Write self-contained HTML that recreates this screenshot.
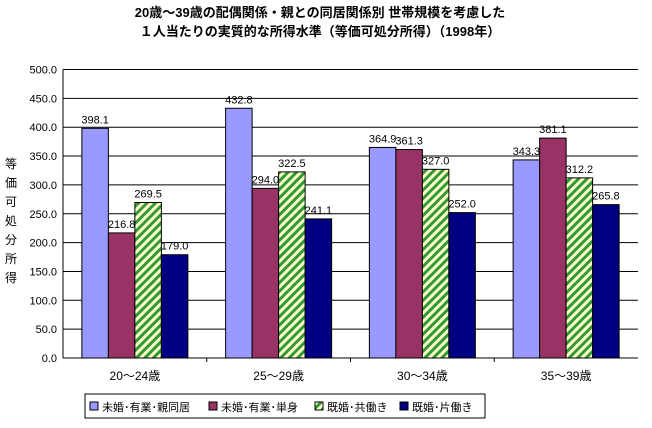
<!DOCTYPE html>
<html><head><meta charset="utf-8"><style>
body{margin:0;background:#fff;font-family:"Liberation Sans","Noto Sans CJK JP",sans-serif}
</style></head><body>
<svg width="652" height="423" xmlns="http://www.w3.org/2000/svg" font-family="Liberation Sans, Noto Sans CJK JP, sans-serif">
<defs><pattern id="hatch" width="6" height="6" patternUnits="userSpaceOnUse" patternTransform="rotate(45)"><rect width="6" height="6" fill="#ffffcc"/><rect width="3" height="6" fill="#339933"/></pattern></defs>
<text x="320" y="17" text-anchor="middle" font-size="13" font-weight="bold">20歳～39歳の配偶関係・親との同居関係別 世帯規模を考慮した</text>
<text x="320" y="36" text-anchor="middle" font-size="13" font-weight="bold">１人当たりの実質的な所得水準（等価可処分所得）（1998年）</text>
<g id="grid"></g><g id="bars"></g><g id="labels"></g>
<text x="10" y="168" font-size="12"><tspan x="5" dy="0">等</tspan><tspan x="5" dy="19">価</tspan><tspan x="5" dy="19">可</tspan><tspan x="5" dy="19">処</tspan><tspan x="5" dy="19">分</tspan><tspan x="5" dy="19">所</tspan><tspan x="5" dy="19">得</tspan></text>
<rect x="85" y="394" width="400" height="24" fill="#fff" stroke="#000"/>
<g font-size="11" id="legend"></g>
</svg>
<script>
const categories=["20～24歳","25～29歳","30～34歳","35～39歳"];
const seriesNames=["未婚･有業･親同居","未婚･有業･単身","既婚･共働き","既婚･片働き"];
const s1=[398.1,432.8,364.9,343.3];
const s2=[216.8,294.0,361.3,381.1];
const s3=[269.5,322.5,327.0,312.2];
const s4=[179.0,241.1,252.0,265.8];
const yTicks=[0,50,100,150,200,250,300,350,400,450,500];
const fills=["#9999ff","#993366","url(#hatch)","#000080"];
const X0=63,X1=638,Y0=358,Y1=69.5,NS="http://www.w3.org/2000/svg";
const y=v=>Y0-(v/500)*(Y0-Y1);
const cw=(X1-X0)/categories.length,bw=26.5;
function el(t,a,p){const e=document.createElementNS(NS,t);for(const k in a)e.setAttribute(k,a[k]);document.getElementById(p).appendChild(e);return e;}
yTicks.forEach(t=>{
 if(t>0){const l=el('line',{x1:X0,x2:X1,y1:y(t),y2:y(t),stroke:'#000','stroke-width':1},'grid');
 
 }
 const tx=el('text',{x:X0-6,y:y(t)+4,'text-anchor':'end','font-size':11},'grid');tx.textContent=t.toFixed(1);
 
 
});
el('line',{x1:X0,x2:X0,y1:Y1,y2:Y0,stroke:'#000'},'grid');
el('line',{x1:X0,x2:X1,y1:Y0,y2:Y0,stroke:'#000'},'grid');
const series=[s1,s2,s3,s4];
categories.forEach((c,i)=>{
 const cx=X0+cw*(i+0.5),start=cx-2*bw;
 series.forEach((s,j)=>{
  const r=el('rect',{x:start+j*bw,y:y(s[i]),width:bw,height:Y0-y(s[i]),fill:fills[j],stroke:'#000','stroke-width':1},'bars');
  
  
  const t=el('text',{x:start+j*bw+bw/2,y:y(s[i])-5,'text-anchor':'middle','font-size':11},'labels');t.textContent=s[i].toFixed(1);
  
  
 });
 const ct=el('text',{x:cx,y:Y0+22,'text-anchor':'middle','font-size':12},'labels');ct.textContent=c;
 
 
 if(i>0){el('line',{x1:X0+cw*i,x2:X0+cw*i,y1:Y0,y2:Y0+4,stroke:'#000'},'grid');}
});
const lx=[90,209,315,400];
seriesNames.forEach((n,j)=>{
 const r=el('rect',{x:lx[j],y:402,width:8,height:8,fill:fills[j],stroke:'#000'},'legend');
 
 
 const t=el('text',{x:lx[j]+12,y:411},'legend');t.textContent=n;
 
 
});
</script>
</body></html>
